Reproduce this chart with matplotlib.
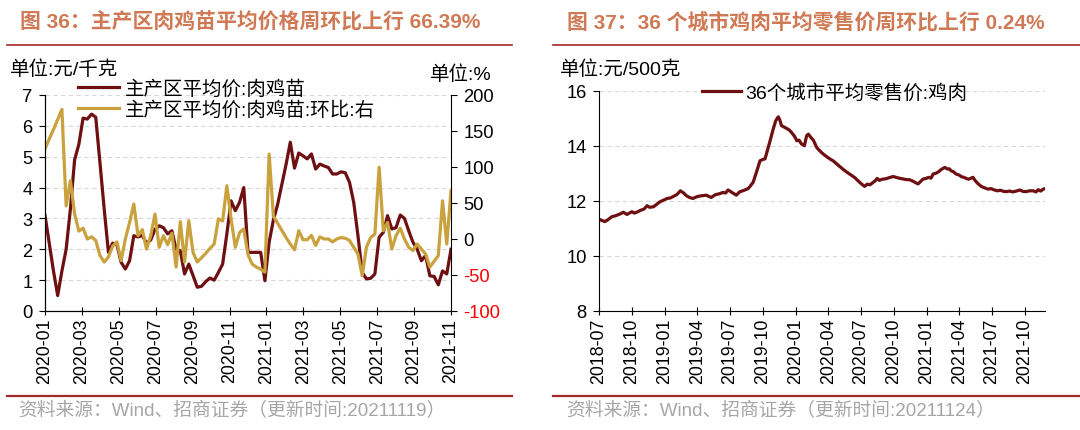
import numpy as np
import pandas as pd
import matplotlib
matplotlib.use("Agg")
import matplotlib.pyplot as plt
import matplotlib.dates as mdates
from matplotlib.lines import Line2D

plt.rcParams['font.family'] = ['Liberation Sans', 'Noto Sans CJK SC', 'DejaVu Sans']
plt.rcParams['axes.unicode_minus'] = False

# 图36 数据（周度）
chick_price = [3.1, 2.2, 1.3, 0.5, 1.3, 2.0, 3.3, 4.9, 5.4, 6.25, 6.22, 6.38, 6.28,
               4.8, 3.3, 1.9, 2.2, 2.15, 1.58, 1.36, 1.63, 2.44, 2.4, 2.45, 2.2,
               2.3, 2.65, 2.76, 2.7, 2.5, 2.6, 2.0, 1.95, 1.2, 1.52, 1.15, 0.77,
               0.8, 0.95, 1.07, 1.0, 1.25, 1.52, 2.5, 3.57, 3.25, 3.52, 4.0, 1.9,
               1.9, 1.9, 1.9, 0.98, 2.23, 2.95, 3.45, 4.1, 4.75, 5.47, 4.63, 5.12,
               5.03, 4.93, 5.09, 4.6, 4.76, 4.7, 4.65, 4.44, 4.44, 4.51, 4.48,
               4.17, 3.52, 2.44, 1.25, 1.04, 1.06, 1.2, 2.39, 2.55, 3.09, 2.66,
               2.7, 3.11, 3.0, 2.6, 2.23, 2.0, 1.63, 1.8, 1.14, 1.12, 0.85, 1.3,
               1.2, 2.0]
chick_wow = [125, 139, 152, 166, 180, 46, 81, 35, 11, 15, 0, 3, -2,
             -23, -32, -25, -10, -4, -30, 0, 23, 48.6, 4.6, 13, -14,
             4.6, 34.7, -11.5, 4.6, -8, 8, -39, 24, -32, 25.4, -18.5, -32,
             -26, -20, -13, -7, 28, 25, 74, 28, -11.5, 9, 14, -22,
             -35, -39, -42, -46, 118, 32, 22, 12, 2, -7, -15, 11.5,
             -1, -1, 5, -9, 3, 0, 0, -4, 0, 2, 1,
             -2, -11.5, -21, -51, -11.5, 2, 7, 99.6, 11.5, 23, -14,
             4.6, 15, 0, -11.5, -16, -7, -14, -21, -39, -31, -23, 53,
             -7, 67]
left_ticklabels = ['2020-01', '2020-03', '2020-05', '2020-07', '2020-09', '2020-11',
                   '2021-01', '2021-03', '2021-05', '2021-07', '2021-09', '2021-11']

# 图37 数据
meat_dates = ['2018-07-04', '2018-07-17', '2018-07-25', '2018-08-06', '2018-08-16', '2018-08-29',
              '2018-09-07', '2018-09-17', '2018-09-25', '2018-10-01', '2018-10-07', '2018-10-14',
              '2018-10-25', '2018-11-04', '2018-11-12', '2018-11-19', '2018-11-30', '2018-12-10',
              '2018-12-18', '2018-12-28', '2019-01-07', '2019-01-16', '2019-01-25', '2019-02-03',
              '2019-02-13', '2019-02-22', '2019-03-02', '2019-03-10', '2019-03-20', '2019-04-01',
              '2019-04-13', '2019-04-27', '2019-05-04', '2019-05-10', '2019-05-22', '2019-06-01',
              '2019-06-12', '2019-06-19', '2019-06-26', '2019-07-07', '2019-07-19', '2019-07-28',
              '2019-08-10', '2019-08-21', '2019-08-28', '2019-09-04', '2019-09-13', '2019-09-23',
              '2019-10-01', '2019-10-07', '2019-10-11', '2019-10-20', '2019-10-30', '2019-11-06',
              '2019-11-13', '2019-11-17', '2019-11-22', '2019-11-29', '2019-12-06', '2019-12-13',
              '2019-12-20', '2019-12-28', '2020-01-04', '2020-01-10', '2020-01-17', '2020-01-25',
              '2020-01-31', '2020-02-05', '2020-02-12', '2020-02-19', '2020-02-28', '2020-03-05',
              '2020-03-12', '2020-03-19', '2020-03-26', '2020-04-05', '2020-04-14', '2020-04-23',
              '2020-05-02', '2020-05-11', '2020-05-21', '2020-05-29', '2020-06-09', '2020-06-15',
              '2020-06-22', '2020-07-02', '2020-07-11', '2020-07-18', '2020-07-26', '2020-08-04',
              '2020-08-09', '2020-08-15', '2020-08-21', '2020-08-29', '2020-09-09', '2020-09-18',
              '2020-09-29', '2020-10-06', '2020-10-15', '2020-10-26', '2020-11-03', '2020-11-14',
              '2020-11-21', '2020-11-28', '2020-12-07', '2020-12-14', '2020-12-21', '2020-12-27',
              '2021-01-06', '2021-01-12', '2021-01-18', '2021-01-26', '2021-02-02', '2021-02-09',
              '2021-02-15', '2021-02-20', '2021-02-27', '2021-03-04', '2021-03-09', '2021-03-16',
              '2021-03-23', '2021-04-01', '2021-04-07', '2021-04-14', '2021-04-20', '2021-04-27',
              '2021-05-04', '2021-05-09', '2021-05-16', '2021-05-23', '2021-06-01', '2021-06-10',
              '2021-06-20', '2021-06-28', '2021-07-08', '2021-07-16', '2021-07-25', '2021-08-02',
              '2021-08-10', '2021-08-19', '2021-08-28', '2021-09-07', '2021-09-17', '2021-09-25',
              '2021-10-04', '2021-10-14', '2021-10-24', '2021-11-01', '2021-11-07', '2021-11-14',
              '2021-11-21', '2021-11-24']
meat_price = [11.31, 11.24, 11.3, 11.42, 11.45, 11.52,
              11.58, 11.5, 11.56, 11.6, 11.55, 11.58,
              11.65, 11.7, 11.82, 11.76, 11.78, 11.88,
              11.96, 12.02, 12.08, 12.1, 12.16, 12.22,
              12.36, 12.28, 12.18, 12.12, 12.08, 12.15,
              12.18, 12.2, 12.15, 12.12, 12.22, 12.25,
              12.3, 12.28, 12.39, 12.3, 12.2, 12.32,
              12.38, 12.44, 12.55, 12.67, 13.03, 13.45,
              13.5, 13.52, 13.7, 14.12, 14.61, 14.91,
              15.05, 14.95, 14.73, 14.68, 14.63, 14.58,
              14.48, 14.35, 14.18, 14.2, 14.06, 14.0,
              14.36, 14.42, 14.3, 14.2, 13.94, 13.85,
              13.76, 13.68, 13.61, 13.52, 13.45, 13.35,
              13.25, 13.15, 13.05, 12.98, 12.88, 12.82,
              12.73, 12.61, 12.52, 12.6, 12.58, 12.67,
              12.72, 12.81, 12.74, 12.78, 12.8, 12.84,
              12.88, 12.85, 12.82, 12.79, 12.77, 12.76,
              12.72, 12.67, 12.61, 12.7, 12.79, 12.8,
              12.85, 12.82, 12.97, 13.0, 13.05, 13.13,
              13.18, 13.21, 13.15, 13.16, 13.09, 13.05,
              12.97, 12.93, 12.87, 12.85, 12.81, 12.78,
              12.82, 12.85, 12.72, 12.62, 12.52, 12.47,
              12.42, 12.44, 12.39, 12.36, 12.38, 12.34,
              12.33, 12.35, 12.32, 12.35, 12.39, 12.34,
              12.33, 12.36, 12.36, 12.32, 12.4, 12.35,
              12.42, 12.43]
right_ticks = ['2018-07-01', '2018-10-01', '2019-01-01', '2019-04-01', '2019-07-01', '2019-10-01',
               '2020-01-01', '2020-04-01', '2020-07-01', '2020-10-01', '2021-01-01', '2021-04-01',
               '2021-07-01', '2021-10-01']

DARK = '#6E0F12'
GOLD = '#C9A23E'
TITLE_C = '#D07A55'
RULE_C = '#A3282B'
GREY = '#A6A6A6'
W, H = 1080, 431
TICK_FS = 13.2
XTICK_FS = 12.8
LAB_FS = 14

fig = plt.figure(figsize=(W / 100, H / 100), dpi=100)

def fx(px):
    return px / W

def fy(py):
    return 1 - py / H

def style_axis(ax):
    ax.spines['top'].set_visible(False)
    ax.spines['right'].set_visible(False)
    ax.grid(axis='y', color='#D9D9D9', linestyle=(0, (4, 3)), linewidth=0.8)
    ax.set_axisbelow(True)
    ax.tick_params(axis='y', direction='out', length=4, labelsize=TICK_FS, pad=5)
    ax.tick_params(axis='x', direction='inout', length=6, labelsize=XTICK_FS, rotation=90, pad=2)

# ---- 左图 ----
ax1 = fig.add_axes([fx(45), fy(312), fx(406), 216 / H])
style_axis(ax1)
x = np.arange(len(chick_price))
ax1.plot(x, chick_price, color=DARK, lw=2.3, zorder=3)
ax1.set_xlim(0, len(chick_price) - 1)
ax1.set_ylim(0, 7)
ax1.set_yticks(range(0, 8))
ax1.set_xticks(np.linspace(0, len(chick_price) - 1, len(left_ticklabels)))
ax1.set_xticklabels(left_ticklabels)

ax2 = ax1.twinx()
ax2.spines['top'].set_visible(False)
ax2.plot(x, chick_wow, color=GOLD, lw=2.3, zorder=2)
ax2.set_ylim(-100, 200)
ax2.set_yticks(range(-100, 201, 50))
ax2.tick_params(axis='y', direction='out', length=4, labelsize=TICK_FS, pad=5)
for t, v in zip(ax2.get_yticklabels(), range(-100, 201, 50)):
    t.set_color('red' if v < 0 else 'black')

handles = [Line2D([], [], color=DARK, lw=2.3), Line2D([], [], color=GOLD, lw=2.3)]
fig.legend(handles, ['主产区平均价:肉鸡苗', '主产区平均价:肉鸡苗:环比:右'],
           loc='upper left', bbox_to_anchor=(fx(78), fy(80)), frameon=False,
           fontsize=LAB_FS, handlelength=2.1, handletextpad=0.3, labelspacing=0.12,
           borderpad=0, borderaxespad=0)

fig.text(fx(10), fy(70), '单位:元/千克', fontsize=LAB_FS, va='center', ha='left')
fig.text(fx(492), fy(75), '单位:%', fontsize=LAB_FS, va='center', ha='right')

# ---- 右图 ----
ax3 = fig.add_axes([fx(599), fy(311.7), fx(446), 220 / H])
style_axis(ax3)
ax3.plot(pd.to_datetime(meat_dates), meat_price, color=DARK, lw=2.3)
ax3.set_ylim(8, 16)
ax3.set_yticks(range(8, 17, 2))
ax3.set_xlim(pd.Timestamp('2018-07-01'), pd.Timestamp('2021-11-26'))
ax3.set_xticks(pd.to_datetime(right_ticks))
ax3.xaxis.set_major_formatter(mdates.DateFormatter('%Y-%m'))
for lab in ax3.get_xticklabels():
    lab.set_rotation(90)

fig.legend([Line2D([], [], color=DARK, lw=2.3)], ['36个城市平均零售价:鸡肉'],
           loc='upper left', bbox_to_anchor=(fx(702), fy(84)), frameon=False,
           fontsize=LAB_FS, handlelength=2.0, handletextpad=0.2, borderpad=0, borderaxespad=0)
fig.text(fx(560), fy(70), '单位:元/500克', fontsize=LAB_FS, va='center', ha='left')

# ---- 标题、分隔线、来源 ----
fig.text(fx(20), fy(22), '图 36：主产区肉鸡苗平均价格周环比上行 66.39%', fontsize=15,
         fontweight='bold', color=TITLE_C, va='center', ha='left')
fig.text(fx(567), fy(22), '图 37：36 个城市鸡肉平均零售价周环比上行 0.24%', fontsize=15,
         fontweight='bold', color=TITLE_C, va='center', ha='left')
for x0, x1 in [(7, 512), (553, 1080)]:
    fig.add_artist(Line2D([fx(x0), fx(x1)], [fy(46), fy(46)], color=RULE_C, lw=1.2))
    fig.add_artist(Line2D([fx(x0), fx(x1)], [fy(397), fy(397)], color=RULE_C, lw=1.6))
fig.text(fx(18), fy(411), '资料来源：Wind、招商证券（更新时间:20211119）', fontsize=13.5,
         color=GREY, va='center', ha='left')
fig.text(fx(566), fy(411), '资料来源：Wind、招商证券（更新时间:20211124）', fontsize=13.5,
         color=GREY, va='center', ha='left')

fig.savefig('out.png', dpi=100)
